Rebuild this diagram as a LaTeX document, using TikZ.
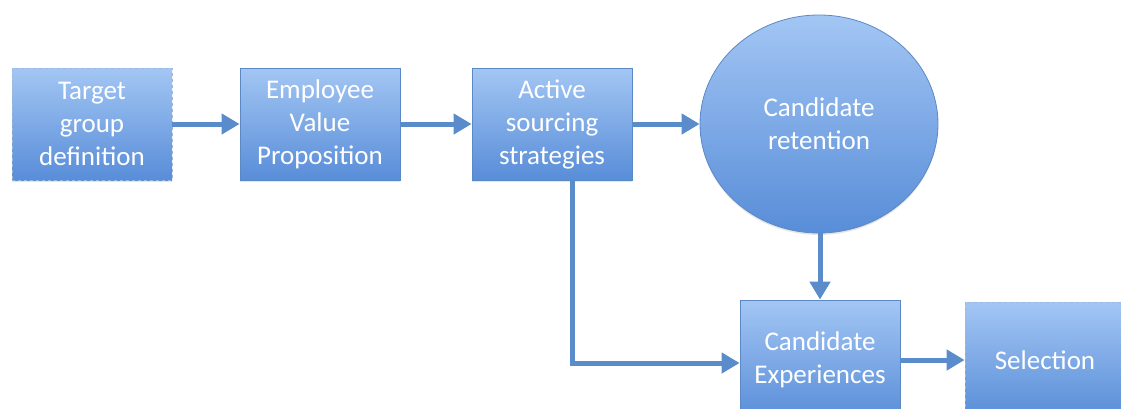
\documentclass[tikz,border=0pt]{standalone}
\usepackage{fontspec}
\setmainfont{Carlito}
\usetikzlibrary{%
  arrows.meta,%
  shapes.geometric,% wg. ellipse
  shadows,%
  positioning,%
  calc
}
\definecolor{boxtop}{HTML}{A3C6F4}
\definecolor{boxbottom}{HTML}{588DD8}
\definecolor{boxline}{HTML}{5B89C6}
\definecolor{arrowblue}{HTML}{5A8BCB}

\begin{document}
\begin{tikzpicture}
  [
  x=1pt, y=-1pt,
  font=\fontsize{27}{33}\selectfont, text=white,
  stepbox/.style={rectangle, inner sep = 0pt, minimum width = 160pt, minimum height = 112pt,
    draw=boxline, line width=0.8pt, top color=boxtop, bottom color=boxbottom, align=center,
    drop shadow={opacity=0.2, shadow xshift=0pt, shadow yshift=-2pt}},
  roundbox/.style={stepbox, ellipse, minimum width = 238pt, minimum height = 218pt},
  flow/.style={draw=arrowblue, line width=5pt, -{Triangle[length=18pt,width=20pt]}},
  ]
  \useasboundingbox (0,0) rectangle (1121,408);

  \node[stepbox, dashed, draw=boxline!60] (target) at (92,124) {Target\\group\\definition};
  \node[stepbox] (evp) at (320,124) {Employee\\Value\\Proposition};
  \node[stepbox] (active) at (552,124) {Active\\sourcing\\strategies};
  \node[roundbox] (retention) at (819,124) {Candidate\\retention};
  \node[stepbox, minimum height = 120pt] (cexp) at (820,360) {Candidate\\Experiences};
  \node[stepbox, dashed, draw=boxline!60, minimum width = 170pt, minimum height = 116pt] (select) at (1050,360) {\hspace*{-10pt}Selection};

  \draw[flow] (target) -- (evp);
  \draw[flow] (evp) -- (active);
  \draw[flow] (active) -- (retention);
  \draw[flow] (retention.south -| cexp) -- (cexp);
  \draw[flow] ([xshift=20pt]active.south) |- ([yshift=-3pt]cexp.west);
  \draw[flow] (cexp) -- (select);
\end{tikzpicture}
\end{document}
